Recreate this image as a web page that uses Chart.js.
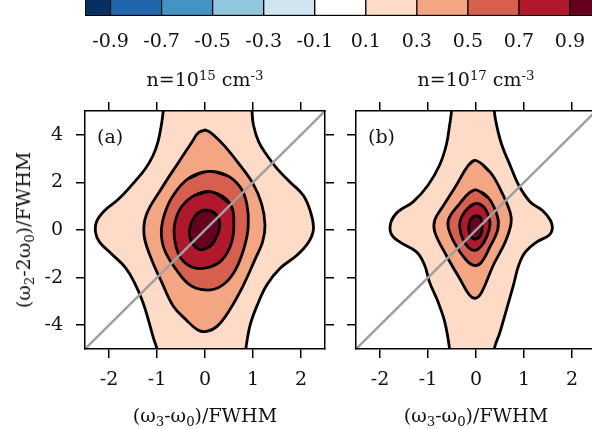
<!DOCTYPE html>
<html><head><meta charset="utf-8">
<script src="https://cdn.jsdelivr.net/npm/chart.js@4/dist/chart.umd.min.js"></script>
<style>
html,body{margin:0;padding:0;background:#fff;overflow:hidden;width:592px;height:429px;position:relative}
canvas{position:absolute}
#cb{left:0;top:-20px}
#pa{left:0;top:0}
#pb{left:330px;top:0}
.lab{position:absolute;font-family:'DejaVu Serif',serif;font-size:19px;line-height:20px;color:#111;white-space:nowrap}
.ctr{text-align:center;width:300px}
sup{font-size:70%;vertical-align:0.48em;line-height:0}
sub{font-size:70%;vertical-align:-0.28em;line-height:0}
</style></head><body>
<canvas id="cb" width="620" height="80"></canvas>
<canvas id="pa" width="340" height="429"></canvas>
<canvas id="pb" width="300" height="429"></canvas>
<div class="lab" style="left:97px;top:126px">(a)</div>
<div class="lab" style="left:368px;top:126px">(b)</div>
<div class="lab ctr" style="left:55px;top:69px">n=10<sup>15</sup> cm<sup>-3</sup></div>
<div class="lab ctr" style="left:326px;top:69px">n=10<sup>17</sup> cm<sup>-3</sup></div>
<div class="lab ctr" style="left:55px;top:405px">(ω<sub>3</sub>-ω<sub>0</sub>)/FWHM</div>
<div class="lab ctr" style="left:326px;top:405px">(ω<sub>3</sub>-ω<sub>0</sub>)/FWHM</div>
<div class="lab" style="left:23px;top:230px;transform:translate(-50%,-50%) rotate(-90deg)">(ω<sub>2</sub>-2ω<sub>0</sub>)/FWHM</div>
<script>
// ---------- data ----------
const cbBounds = [-1.0,-0.9,-0.7,-0.5,-0.3,-0.1,0.1,0.3,0.5,0.7,0.9,1.0];
const cbColors = ['#053061','#2166ac','#4393c3','#92c5de','#d1e5f0','#ffffff','#fddbc7','#f4a582','#d6604d','#b2182b','#67001f'];
const cbTicks = [-0.9,-0.7,-0.5,-0.3,-0.1,0.1,0.3,0.5,0.7,0.9];
const levelColors = ['#fddbc7','#f4a582','#d6604d','#b2182b','#67001f']; // 0.1,0.3,0.5,0.7,0.9
const xTicks = [-2,-1,0,1,2];
const yTicks = [-4,-2,0,2,4];
const xRange = [-2.5, 2.5];
const yRange = [-5, 5];
const diagonal = [[-2.5,-5],[2.5,5]];

// panel (a) contours [x, y]
const a_lev01 = [[-0.85,5.6],[-0.87,5.0],[-0.91,4.4],[-0.98,3.7],[-1.08,3.14],[-1.25,2.55],[-1.5,1.95],[-1.8,1.3],[-2.1,0.8],[-2.26,0.35],[-2.28,-0.1],[-2.2,-0.5],[-1.95,-1.0],[-1.65,-1.6],[-1.45,-2.3],[-1.3,-3.0],[-1.19,-3.7],[-1.08,-4.5],[-1.0,-5.0],[-0.95,-5.6],
  [0.82,-5.6],[0.85,-5.0],[0.94,-4.0],[1.08,-3.2],[1.29,-2.3],[1.57,-1.6],[1.92,-1.05],[2.16,-0.5],[2.26,0.05],[2.2,0.75],[2.05,1.45],[1.78,2.0],[1.5,2.58],[1.29,3.14],[1.12,3.7],[1.01,4.4],[0.98,5.0],[0.97,5.6]];
const a_lev03 = [[0.03,4.19],[0.2,3.95],[0.42,3.5],[0.68,2.85],[1.0,1.95],[1.18,1.1],[1.25,0.2],[1.2,-0.5],[1.05,-1.2],[0.78,-2.4],[0.5,-3.4],[0.25,-4.05],[0.03,-4.26],[-0.15,-4.2],[-0.38,-3.8],[-0.66,-3.2],[-0.9,-2.2],[-1.13,-1.15],[-1.27,-0.2],[-1.22,0.65],[-0.92,1.7],[-0.55,2.85],[-0.27,3.7],[-0.13,4.1]];
const a_lev05 = [[0.07,2.46],[0.45,2.3],[0.73,1.81],[0.87,1.11],[0.9,0.13],[0.8,-0.85],[0.59,-1.83],[0.31,-2.39],[0,-2.52],[-0.31,-2.32],[-0.59,-1.69],[-0.84,-0.85],[-0.91,-0.08],[-0.84,0.69],[-0.66,1.46],[-0.35,2.16]];
const a_lev07 = [[0.14,1.6],[0.52,1.11],[0.6,0.13],[0.52,-0.71],[0.31,-1.34],[0,-1.6],[-0.28,-1.55],[-0.52,-1.13],[-0.63,-0.43],[-0.63,0.27],[-0.49,0.97],[-0.21,1.46]];
const a_lev09 = [[0.05,0.83],[0.2,0.72],[0.29,0.45],[0.31,0.15],[0.26,-0.2],[0.15,-0.6],[0.0,-0.8],[-0.12,-0.82],[-0.25,-0.6],[-0.32,-0.25],[-0.31,0.15],[-0.22,0.55],[-0.1,0.78]];

// panel (b) contours [x, y]
const b_lev01 = [[-0.5,5.6],[-0.51,5.0],[-0.55,4.4],[-0.62,3.56],[-0.76,2.72],[-1.0,1.88],[-1.31,1.18],[-1.63,0.76],[-1.77,0.34],[-1.77,-0.15],[-1.59,-0.5],[-1.24,-0.92],[-1.07,-1.48],[-0.97,-2.18],[-0.79,-3.03],[-0.65,-3.87],[-0.55,-5.0],[-0.53,-5.6],
  [0.37,-5.6],[0.38,-5.0],[0.5,-4.29],[0.64,-3.31],[0.78,-2.32],[0.89,-1.48],[1.03,-0.92],[1.27,-0.5],[1.52,-0.22],[1.59,0.06],[1.55,0.41],[1.38,0.83],[1.13,1.18],[0.89,1.88],[0.71,2.72],[0.54,3.56],[0.43,4.4],[0.38,5.0],[0.37,5.6]];
const b_lev03 = [[0,2.92],[0.29,2.44],[0.5,1.74],[0.71,0.76],[0.73,0.27],[0.61,-0.5],[0.36,-1.48],[0.12,-2.61],[0,-2.86],[-0.13,-2.75],[-0.34,-2.04],[-0.62,-1.06],[-0.86,-0.08],[-0.86,0.41],[-0.72,0.9],[-0.41,1.88],[-0.16,2.72]];
const b_lev05 = [[0.01,1.68],[0.26,1.35],[0.45,0.55],[0.45,-0.01],[0.29,-0.71],[0.12,-1.34],[-0.02,-1.5],[-0.2,-1.27],[-0.44,-0.57],[-0.58,0.13],[-0.55,0.55],[-0.34,1.11],[-0.13,1.58]];
const b_lev07 = [[0,1.12],[0.15,1.0],[0.26,0.6],[0.29,0.2],[0.22,-0.3],[0.1,-0.7],[-0.02,-0.86],[-0.15,-0.75],[-0.28,-0.35],[-0.34,0.15],[-0.3,0.55],[-0.15,0.95]];
const b_lev09 = [[0.02,0.6],[0.1,0.5],[0.13,0.15],[0.1,-0.2],[0.0,-0.38],[-0.1,-0.3],[-0.15,0.0],[-0.13,0.35],[-0.06,0.55]];

// ---------- helpers ----------
const FONT = "'DejaVu Serif', serif";
const FS = 19;
const TXT = '#111';
const toXY = arr => arr.map(([x,y]) => ({x, y}));
const closed = arr => toXY([arr[arr.length-1], ...arr, arr[0], arr[1]]);

function contourSet(open, inner) {
  const all = [toXY(open), ...inner.map(closed)];
  return all.map((d, i) => ({
    data: d, fill: 'shape', backgroundColor: levelColors[i], borderColor: '#000',
    borderWidth: 2.8, pointRadius: 0, tension: 0.4, capBezierPoints: false,
    borderJoinStyle: 'round', clip: 0, order: 10 - i
  })).concat([{
    data: toXY(diagonal), borderColor: '#a0a0a0', borderWidth: 2.5, pointRadius: 0,
    tension: 0, fill: false, clip: 0, order: 0
  }]);
}

function axis(pos, range, ticks, size, showLabels, labelPad) {
  const horiz = pos === 'top' || pos === 'bottom';
  return {
    type: 'linear', position: pos, min: range[0], max: range[1],
    afterBuildTicks: s => { s.ticks = ticks.map(v => ({value: v})); },
    afterFit: s => { if (horiz) s.height = size; else s.width = size; },
    grid: {drawOnChartArea: false, drawTicks: true, tickLength: 9, color: '#000', lineWidth: 1.5},
    border: {display: true, color: '#000', width: 1.5, z: 2},
    ticks: {padding: labelPad, font: {family: FONT, size: FS}, color: TXT,
            callback: v => showLabels ? String(v) : ''}
  };
}

function panel(id, datasets, yLabels, leftW, rightW) {
  new Chart(document.getElementById(id), {
    type: 'line',
    data: {datasets},
    options: {
      responsive: false, animation: false, events: [],
      layout: {padding: 0, autoPadding: false},
      plugins: {legend: {display: false}, tooltip: {enabled: false}},
      scales: {
        x: axis('bottom', xRange, xTicks, 80, true, 11),
        x2: axis('top', xRange, xTicks, 111, false, 0),
        y: axis('left', yRange, yTicks, leftW, yLabels, 13),
        y2: axis('right', yRange, yTicks, rightW, false, 0)
      }
    }
  });
}

// ---------- colorbar ----------
new Chart(document.getElementById('cb'), {
  type: 'bar',
  data: {labels: ['cb'], datasets: cbColors.map((c, i) => ({
    data: [[cbBounds[i], cbBounds[i+1]]], backgroundColor: c, borderColor: '#000',
    borderWidth: {left: 1, right: 1, top: 1.5, bottom: 1.5}, borderSkipped: false,
    grouped: false, barPercentage: 1, categoryPercentage: 1
  }))},
  options: {
    indexAxis: 'y', responsive: false, animation: false, events: [],
    layout: {padding: {left: 85, right: 24.5, top: 0, bottom: 0}, autoPadding: false},
    plugins: {legend: {display: false}, tooltip: {enabled: false}},
    scales: {
      y: {display: false},
      x: {type: 'linear', min: -1, max: 1,
          afterBuildTicks: s => { s.ticks = cbTicks.map(v => ({value: v})); },
          afterFit: s => { s.height = 44; },
          grid: {display: false, drawTicks: false}, border: {display: false},
          ticks: {padding: 15, font: {family: FONT, size: FS}, color: TXT, callback: v => v.toFixed(1)}}
    }
  }
});

panel('pa', contourSet(a_lev01, [a_lev03, a_lev05, a_lev07, a_lev09]), true, 85, 15);
panel('pb', contourSet(b_lev01, [b_lev03, b_lev05, b_lev07, b_lev09]), false, 26, 34);
</script>
</body></html>
